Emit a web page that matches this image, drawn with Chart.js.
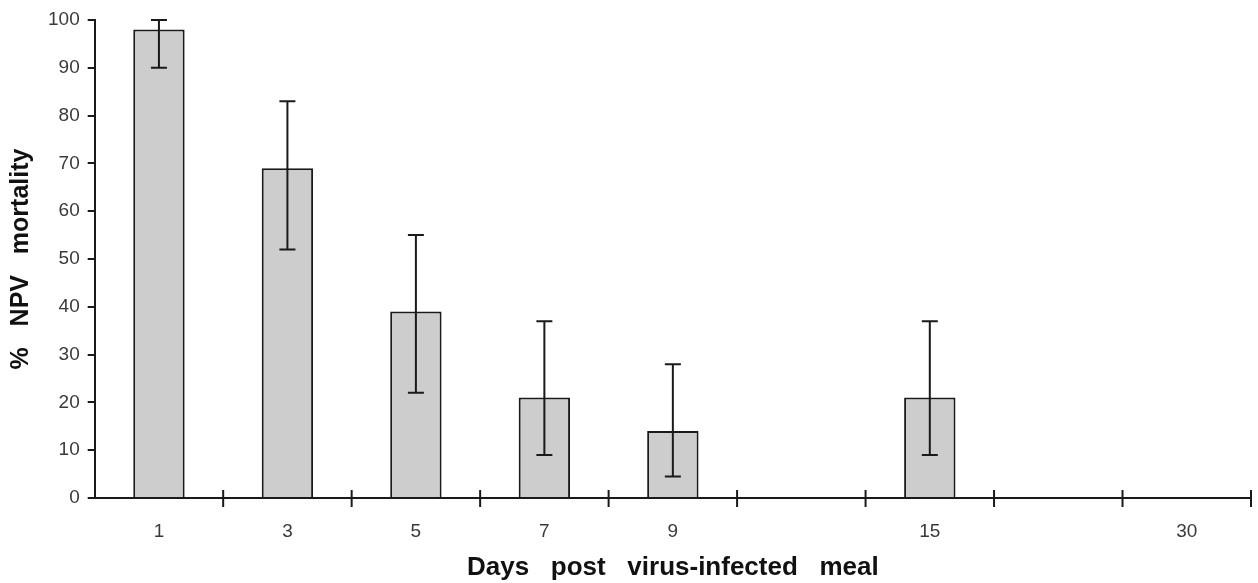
<!DOCTYPE html>
<html>
<head>
<meta charset="utf-8">
<script src="https://cdn.jsdelivr.net/npm/chart.js@4"></script>
<style>
html,body{margin:0;padding:0;background:#fff;}
#wrap{width:1258px;height:583px;}
</style>
</head>
<body>
<div id="wrap"><canvas id="c" width="1258" height="583"></canvas></div>
<script>
const categories = ['1', '3', '5', '7', '9', '', '15', '', '30'];
const mortality = [98, 69, 39, 21, 14, null, 21, null, 0];
const errLow = [90, 52, 22, 9, 4.5, null, 9, null, null];
const errHigh = [100, 83, 55, 37, 28, null, 37, null, null];
const yTicks = [0, 10, 20, 30, 40, 50, 60, 70, 80, 90, 100];

const errorBars = {
  id: 'errorBars',
  afterDatasetsDraw(chart) {
    const ctx = chart.ctx, x = chart.scales.x, y = chart.scales.y;
    ctx.save();
    ctx.strokeStyle = '#1a1a1a';
    ctx.lineWidth = 2;
    for (let i = 0; i < categories.length; i++) {
      if (errLow[i] == null || errHigh[i] == null) continue;
      const px = x.getPixelForValue(i);
      const lo = y.getPixelForValue(errLow[i]);
      const hi = y.getPixelForValue(errHigh[i]);
      ctx.beginPath();
      ctx.moveTo(px, lo); ctx.lineTo(px, hi);
      ctx.moveTo(px - 8, lo); ctx.lineTo(px + 8, lo);
      ctx.moveTo(px - 8, hi); ctx.lineTo(px + 8, hi);
      ctx.stroke();
    }
    // category boundary ticks crossing the x axis
    const base = y.getPixelForValue(0);
    for (let i = 0; i < categories.length; i++) {
      const bx = i < categories.length - 1 ? (x.getPixelForValue(i) + x.getPixelForValue(i + 1)) / 2 : x.right;
      ctx.beginPath();
      ctx.moveTo(bx, base - 8); ctx.lineTo(bx, base + 9);
      ctx.stroke();
    }
    ctx.restore();
  }
};

new Chart(document.getElementById('c'), {
  type: 'bar',
  data: {
    labels: categories,
    datasets: [{
      data: mortality,
      backgroundColor: '#cdcdcd',
      borderColor: '#1a1a1a',
      borderWidth: 2,
      borderSkipped: 'bottom',
      categoryPercentage: 1.0,
      barPercentage: 0.4
    }]
  },
  options: {
    responsive: false,
    animation: false,
    layout: { padding: { top: 20, right: 7, left: 0, bottom: 0 } },
    plugins: { legend: { display: false }, tooltip: { enabled: false } },
    scales: {
      x: {
        offset: true,
        grid: { display: false, drawOnChartArea: false },
        border: { display: true, color: '#1a1a1a', width: 2 },
        ticks: { color: '#3a3a3a', font: { family: 'Liberation Sans, Arial, sans-serif', size: 19 }, padding: 14, maxRotation: 0, autoSkip: false },
        title: {
          display: true,
          text: 'Days   post   virus-infected   meal',
          color: '#111',
          font: { family: 'Liberation Sans, Arial, sans-serif', size: 26, weight: 'bold' },
          padding: { top: -5, bottom: 0 }
        }
      },
      y: {
        min: 0, max: 100,
        afterBuildTicks(scale) { scale.ticks = yTicks.map(v => ({ value: v })); },
        grid: { drawOnChartArea: false, tickLength: 7, color: '#1a1a1a', lineWidth: 2 },
        border: { display: true, color: '#1a1a1a', width: 2 },
        ticks: { color: '#3a3a3a', font: { family: 'Liberation Sans, Arial, sans-serif', size: 19 }, padding: 8 },
        title: {
          display: true,
          text: '%   NPV   mortality',
          color: '#111',
          font: { family: 'Liberation Sans, Arial, sans-serif', size: 25, weight: 'bold' },
          padding: { top: 6, bottom: 4 }
        }
      }
    }
  },
  plugins: [errorBars]
});
</script>
</body>
</html>
